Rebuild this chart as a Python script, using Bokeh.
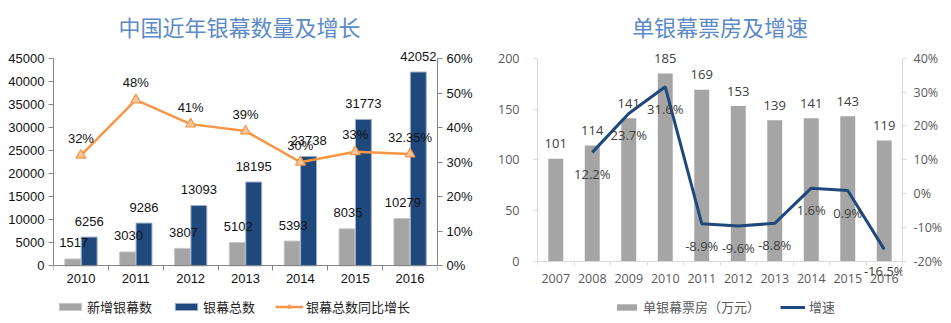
import numpy as np
from bokeh.plotting import figure
from bokeh.models import (ColumnDataSource, Range1d, LinearAxis, FixedTicker, LabelSet,
                          Legend, LegendItem, PrintfTickFormatter, BoxAnnotation)
from bokeh.core.properties import value
from bokeh.layouts import row
from bokeh.embed import file_html
from bokeh.resources import INLINE

# ---------------- data: left chart ----------------
years_a = ["2010", "2011", "2012", "2013", "2014", "2015", "2016"]
new_screens = [1517, 3030, 3807, 5102, 5393, 8035, 10279]
total_screens = [6256, 9286, 13093, 18195, 23738, 31773, 42052]
total_growth = [32, 48, 41, 39, 30, 33, 32.35]
total_growth_labels = ["32%", "48%", "41%", "39%", "30%", "33%", "32.35%"]
left_y_ticks = [0, 5000, 10000, 15000, 20000, 25000, 30000, 35000, 40000, 45000]
left_pct_ticks = [0, 10, 20, 30, 40, 50, 60]

# ---------------- data: right chart ----------------
years_b = ["2007", "2008", "2009", "2010", "2011", "2012", "2013", "2014", "2015", "2016"]
box_office = [101, 114, 141, 185, 169, 153, 139, 141, 143, 119]
speed_years = ["2008", "2009", "2010", "2011", "2012", "2013", "2014", "2015", "2016"]
speed = [12.2, 23.7, 31.6, -8.9, -9.6, -8.8, 1.6, 0.9, -16.5]
speed_labels = ["12.2%", "23.7%", "31.6%", "-8.9%", "-9.6%", "-8.8%", "1.6%", "0.9%", "-16.5%"]
right_y_ticks = [0, 50, 100, 150, 200]
right_pct_ticks = [-20, -10, 0, 10, 20, 30, 40]

CJK = "Noto Sans CJK SC"
TITLE_COLOR = "#5b8ac6"
GRAY = "#a5a5a5"
NAVY = "#1f497d"
ORANGE = "#f79646"
H = 323


def span_range(lo, hi, px_lo, px_hi, frame_top, frame_bottom):
    """Range whose [lo, hi] maps to pixel rows [px_lo, px_hi] inside a frame."""
    scale = (px_lo - px_hi) / (hi - lo)
    return Range1d(lo - (frame_bottom - px_lo) / scale, hi + (px_hi - frame_top) / scale)


# ================= LEFT CHART =================
T1, Z1, A1 = 46, 265, 56   # frame top, axis-zero row, top-tick row
xa = np.arange(len(years_a))
src_a = ColumnDataSource(dict(
    x=xa, xg=xa - 0.15, xb=xa + 0.15,
    new=new_screens, total=total_screens, growth=total_growth,
    new_lbl=[str(v) for v in new_screens], total_lbl=[str(v) for v in total_screens],
    growth_lbl=total_growth_labels))

ya_max, pa_max = left_y_ticks[-1], left_pct_ticks[-1]
p1 = figure(width=475, height=H, output_backend="svg", toolbar_location=None,
            x_range=Range1d(-0.5, len(years_a) - 0.5),
            y_range=span_range(0, ya_max, Z1, A1, T1, H),
            min_border_left=53, min_border_right=34, min_border_top=T1, min_border_bottom=0)
p1.extra_y_ranges = {"pct": span_range(0, pa_max, Z1, A1, T1, H)}
p1.outline_line_color = None
p1.grid.visible = False
p1.background_fill_color = "white"
p1.border_fill_color = "white"

p1.title.text = "中国近年银幕数量及增长"
p1.title.align = "left"
p1.title.offset = 65
p1.title.text_font = CJK
p1.title.text_font_size = "22px"
p1.title.text_font_style = "normal"
p1.title.text_color = TITLE_COLOR
p1.title.standoff = 14

rg = p1.vbar(x="xg", top="new", width=0.29, source=src_a, fill_color=GRAY, line_color="#c8c8c8", line_width=1)
rb = p1.vbar(x="xb", top="total", width=0.29, source=src_a, fill_color=NAVY, line_color="#9fb0c6", line_width=1)
rl = p1.line(x="x", y="growth", source=src_a, y_range_name="pct", line_color=ORANGE, line_width=2.5)
rm = p1.scatter(x="x", y="growth", source=src_a, y_range_name="pct", marker="triangle", size=10,
                fill_color="#f5c6a0", line_color=ORANGE, line_width=1.2)

lbl_font = "Liberation Sans"
p1.add_layout(LabelSet(x="xg", y="new", text="new_lbl", source=src_a, text_align="center",
                       text_baseline="middle", y_offset=16, x_offset=1, text_font=value(lbl_font),
                       text_font_size="13px", text_color="#111111"))
p1.add_layout(LabelSet(x="xb", y="total", text="total_lbl", source=src_a, text_align="center",
                       text_baseline="middle", y_offset=16, text_font=value(lbl_font),
                       text_font_size="13px", text_color="#111111"))
p1.add_layout(LabelSet(x="x", y="growth", text="growth_lbl", source=src_a, y_range_name="pct",
                       text_align="center", text_baseline="middle", y_offset=17, text_font=value(lbl_font),
                       text_font_size="13px", text_color="#111111"))

axis_gray = "#868686"
xax = p1.xaxis[0]
xax.fixed_location = 0
xax.ticker = FixedTicker(ticks=list(xa), minor_ticks=[i - 0.5 for i in range(len(years_a) + 1)])
xax.major_label_overrides = {int(i): years_a[i] for i in xa}
xax.major_tick_out = 0
xax.major_tick_in = 0
xax.minor_tick_out = 5
xax.minor_tick_in = 0
xax.axis_line_color = axis_gray
xax.minor_tick_line_color = axis_gray
xax.major_label_standoff = 3
xax.major_label_text_font = lbl_font
xax.major_label_text_font_size = "13px"
xax.major_label_text_color = "#111111"

yax = p1.yaxis[0]
yax.ticker = FixedTicker(ticks=left_y_ticks)
yax.bounds = (0, ya_max)
yax.axis_line_color = axis_gray
yax.major_tick_line_color = axis_gray
yax.major_tick_out = 5
yax.major_tick_in = 0
yax.minor_tick_line_color = None
yax.major_label_standoff = 4
yax.major_label_text_font = lbl_font
yax.major_label_text_font_size = "13px"
yax.major_label_text_color = "#111111"

ryax = LinearAxis(y_range_name="pct", ticker=FixedTicker(ticks=left_pct_ticks),
                  formatter=PrintfTickFormatter(format="%d%%"), bounds=(0, pa_max))
ryax.axis_line_color = axis_gray
ryax.major_tick_line_color = axis_gray
ryax.major_tick_out = 5
ryax.major_tick_in = 0
ryax.minor_tick_line_color = None
ryax.major_label_standoff = 4
ryax.major_label_text_font = lbl_font
ryax.major_label_text_font_size = "13px"
ryax.major_label_text_color = "#111111"
p1.add_layout(ryax, "right")

leg1 = Legend(items=[LegendItem(label="新增银幕数", renderers=[rg]),
                     LegendItem(label="银幕总数", renderers=[rb]),
                     LegendItem(label="银幕总数同比增长", renderers=[rl, rm])],
              orientation="horizontal", location=(3, 7), border_line_color=None,
              background_fill_alpha=0, label_text_font=CJK, label_text_font_size="13px",
              label_text_color="#222222", glyph_width=28, glyph_height=9, label_height=14,
              label_standoff=3, spacing=20, padding=4, margin=0)
p1.add_layout(leg1, "center")

p1.add_layout(BoxAnnotation(left=18, right=475, top=1, bottom=2.5, left_units="canvas",
                            right_units="canvas", top_units="canvas", bottom_units="canvas",
                            fill_color=TITLE_COLOR, fill_alpha=1, line_color=None, level="overlay"))

# ================= RIGHT CHART =================
T2, Z2, A2 = 45, 260, 55
xb = np.arange(len(years_b))
xs = np.array([years_b.index(y) for y in speed_years])
src_b = ColumnDataSource(dict(x=xb, bo=box_office, bo_lbl=[str(v) for v in box_office]))
src_s = ColumnDataSource(dict(x=xs, sp=speed, sp_lbl=speed_labels))

yb_max = right_y_ticks[-1]
pb_min, pb_max = right_pct_ticks[0], right_pct_ticks[-1]
p2 = figure(width=476, height=H, output_backend="svg", toolbar_location=None,
            x_range=Range1d(-0.5, len(years_b) - 0.5),
            y_range=span_range(0, yb_max, Z2, A2, T2, H),
            min_border_left=62, min_border_right=49, min_border_top=T2, min_border_bottom=0)
p2.extra_y_ranges = {"pct": span_range(pb_min, pb_max, Z2, A2, T2, H)}
p2.outline_line_color = None
p2.grid.visible = False
p2.background_fill_color = "white"
p2.border_fill_color = "white"

p2.title.text = "单银幕票房及增速"
p2.title.align = "center"
p2.title.text_font = CJK
p2.title.text_font_size = "22px"
p2.title.text_font_style = "normal"
p2.title.text_color = TITLE_COLOR
p2.title.standoff = 14

r_bo = p2.vbar(x="x", top="bo", width=0.41, source=src_b, fill_color=GRAY, line_color=None)
r_sp = p2.line(x="x", y="sp", source=src_s, y_range_name="pct", line_color=NAVY, line_width=3)

f2 = "Open Sans"
lc = "#404040"
p2.add_layout(LabelSet(x="x", y="bo", text="bo_lbl", source=src_b, text_align="center",
                       text_baseline="middle", y_offset=15, text_font=value(f2),
                       text_font_size="13px", text_color=lc))
p2.add_layout(LabelSet(x="x", y="sp", text="sp_lbl", source=src_s, y_range_name="pct",
                       text_align="center", text_baseline="middle", y_offset=-22, text_font=value(f2),
                       text_font_size="13px", text_color=lc))

light = "#d9d9d9"
tick_c = "#595959"
xax2 = p2.xaxis[0]
xax2.fixed_location = 0
xax2.ticker = FixedTicker(ticks=list(xb), minor_ticks=[i - 0.5 for i in range(len(years_b) + 1)])
xax2.major_label_overrides = {int(i): years_b[i] for i in xb}
xax2.major_tick_out = 0
xax2.major_tick_in = 0
xax2.minor_tick_out = 4
xax2.minor_tick_in = 0
xax2.axis_line_color = light
xax2.minor_tick_line_color = light
xax2.major_label_standoff = 9
xax2.major_label_text_font = f2
xax2.major_label_text_font_size = "12.5px"
xax2.major_label_text_color = tick_c

yax2 = p2.yaxis[0]
yax2.ticker = FixedTicker(ticks=right_y_ticks)
yax2.bounds = (0, yb_max)
yax2.axis_line_color = light
yax2.major_tick_line_color = light
yax2.major_tick_out = 4
yax2.major_tick_in = 0
yax2.minor_tick_line_color = None
yax2.major_label_standoff = 14
yax2.major_label_text_font = f2
yax2.major_label_text_font_size = "12.5px"
yax2.major_label_text_color = tick_c

ryax2 = LinearAxis(y_range_name="pct", ticker=FixedTicker(ticks=right_pct_ticks),
                   formatter=PrintfTickFormatter(format="%d%%"), bounds=(pb_min, pb_max))
ryax2.axis_line_color = light
ryax2.major_tick_line_color = light
ryax2.major_tick_out = 4
ryax2.major_tick_in = 0
ryax2.minor_tick_line_color = None
ryax2.major_label_standoff = 7
ryax2.major_label_text_font = f2
ryax2.major_label_text_font_size = "12.5px"
ryax2.major_label_text_color = tick_c
p2.add_layout(ryax2, "right")

leg2 = Legend(items=[LegendItem(label="单银幕票房（万元）", renderers=[r_bo]),
                     LegendItem(label="增速", renderers=[r_sp])],
              orientation="horizontal", location=(77, 7), border_line_color=None,
              background_fill_alpha=0, label_text_font=CJK, label_text_font_size="13px",
              label_text_color=tick_c, glyph_width=25, glyph_height=8, label_height=14,
              label_standoff=4, spacing=20, padding=4, margin=0)
p2.add_layout(leg2, "center")

p2.add_layout(BoxAnnotation(left=0, right=465, top=1, bottom=2.5, left_units="canvas",
                            right_units="canvas", top_units="canvas", bottom_units="canvas",
                            fill_color=TITLE_COLOR, fill_alpha=1, line_color=None, level="overlay"))

layout = row(p1, p2, spacing=0)

open("out.html", "w").write(file_html(layout, INLINE))
